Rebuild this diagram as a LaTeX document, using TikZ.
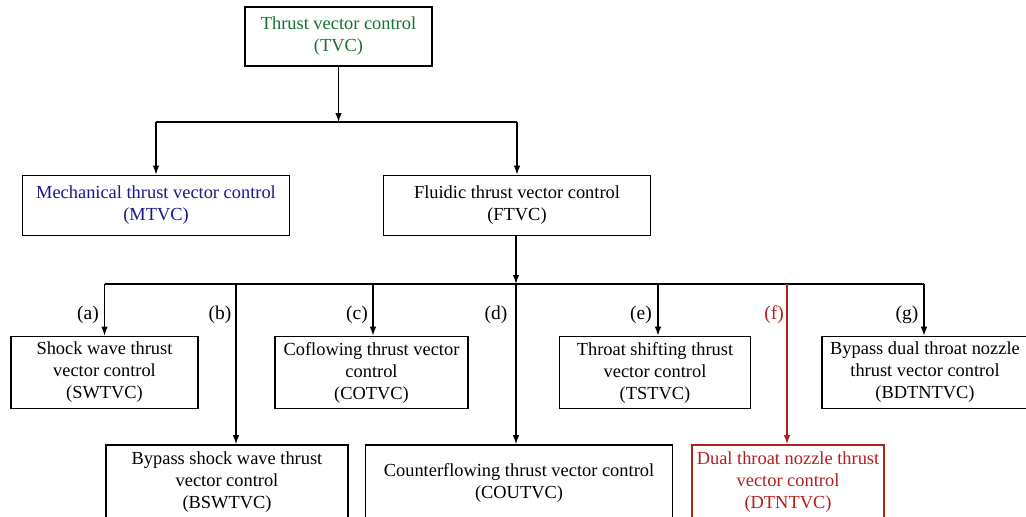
\documentclass[tikz,border=0pt]{standalone}
\usepackage{fontspec}
\setmainfont{Liberation Serif}
\usetikzlibrary{arrows.meta}
\definecolor{tvcgreen}{RGB}{20,115,45}
\definecolor{mblue}{RGB}{25,25,140}
\definecolor{dred}{RGB}{180,30,30}
\begin{document}
\begin{tikzpicture}[x=1pt,y=-1pt,
  box/.style={draw=black,line width=1.6pt,rectangle,align=center,inner sep=0pt,
    font=\fontsize{18.4}{22}\selectfont},
  conn/.style={line width=1.3pt,-{Latex[length=9pt,width=6.5pt]}},
  busline/.style={line width=1.6pt},
  lab/.style={font=\fontsize{19.5}{22}\selectfont,inner sep=0pt}]
\clip (0,0) rectangle (1026,517);
\useasboundingbox (0,0) rectangle (1026,517);
\fill[white] (0,0) rectangle (1026,517);
% nodes
\node[box,minimum width=187pt,minimum height=59pt,text=tvcgreen] (tvc) at (338.5,36.5) {Thrust vector control\\(TVC)};
\node[box,minimum width=267pt,minimum height=60pt,text=mblue] (mtvc) at (156,205.5) {Mechanical thrust vector control\\(MTVC)};
\node[box,minimum width=267pt,minimum height=60pt] (ftvc) at (517,205.5) {Fluidic thrust vector control\\(FTVC)};
\node[box,minimum width=187pt,minimum height=72pt] (swtvc) at (104.5,372.5) {Shock wave thrust\\vector control\\(SWTVC)};
\node[box,minimum width=193pt,minimum height=72pt] (cotvc) at (371.5,372.5) {Coflowing thrust vector\\control\\(COTVC)};
\node[box,minimum width=191pt,minimum height=72pt] (tstvc) at (655,372.5) {Throat shifting thrust\\vector control\\(TSTVC)};
\node[box,minimum width=206pt,minimum height=72pt] (bdtntvc) at (925,372.5) {Bypass dual throat nozzle\\thrust vector control\\(BDTNTVC)};
\node[box,minimum width=242pt,minimum height=75pt] (bswtvc) at (227,482.5) {Bypass shock wave thrust\\vector control\\(BSWTVC)};
\node[box,minimum width=307pt,minimum height=75pt] (coutvc) at (519,482.5) {Counterflowing thrust vector control\\(COUTVC)};
\node[box,draw=dred,text=dred,minimum width=192pt,minimum height=75pt] (dtntvc) at (788,482.5) {Dual throat nozzle thrust\\vector control\\(DTNTVC)};
% first level
\coordinate (b1) at (338.5,122);
\coordinate (b1l) at (156,122);
\coordinate (b1r) at (517,122);
\draw[conn] (tvc.south) -- (b1);
\draw[busline] (b1l) -- (b1r);
\draw[conn] (b1l) -- (mtvc.north);
\draw[conn] (b1r) -- (ftvc.north);
% second level
\coordinate (b2) at (516,284);
\coordinate (ba) at (104.5,284);
\coordinate (bb) at (236,284);
\coordinate (bc) at (373,284);
\coordinate (be) at (658,284);
\coordinate (bf) at (787,284);
\coordinate (bg) at (924,284);
\draw[conn] (ftvc.south -| b2) -- (b2);
\draw[busline] (ba) -- (bg);
\draw[conn] (ba) -- (swtvc.north);
\draw[conn] (bb) -- (bb |- bswtvc.north);
\draw[conn] (bc) -- (bc |- cotvc.north);
\draw[conn] (b2) -- (b2 |- coutvc.north);
\draw[conn] (be) -- (be |- tstvc.north);
\draw[conn,draw=dred,fill=dred] (bf) -- (bf |- dtntvc.north);
\draw[conn] (bg) -- (bg |- bdtntvc.north);
% labels
\node[lab] (la) at (88,315) {(a)};
\node[lab] (lb) at (220,315) {(b)};
\node[lab] (lc) at (357,315) {(c)};
\node[lab] (ld) at (496,315) {(d)};
\node[lab] (le) at (641,315) {(e)};
\node[lab,text=dred] (lf) at (774,315) {(f)};
\node[lab] (lg) at (907,315) {(g)};
\end{tikzpicture}
\end{document}
